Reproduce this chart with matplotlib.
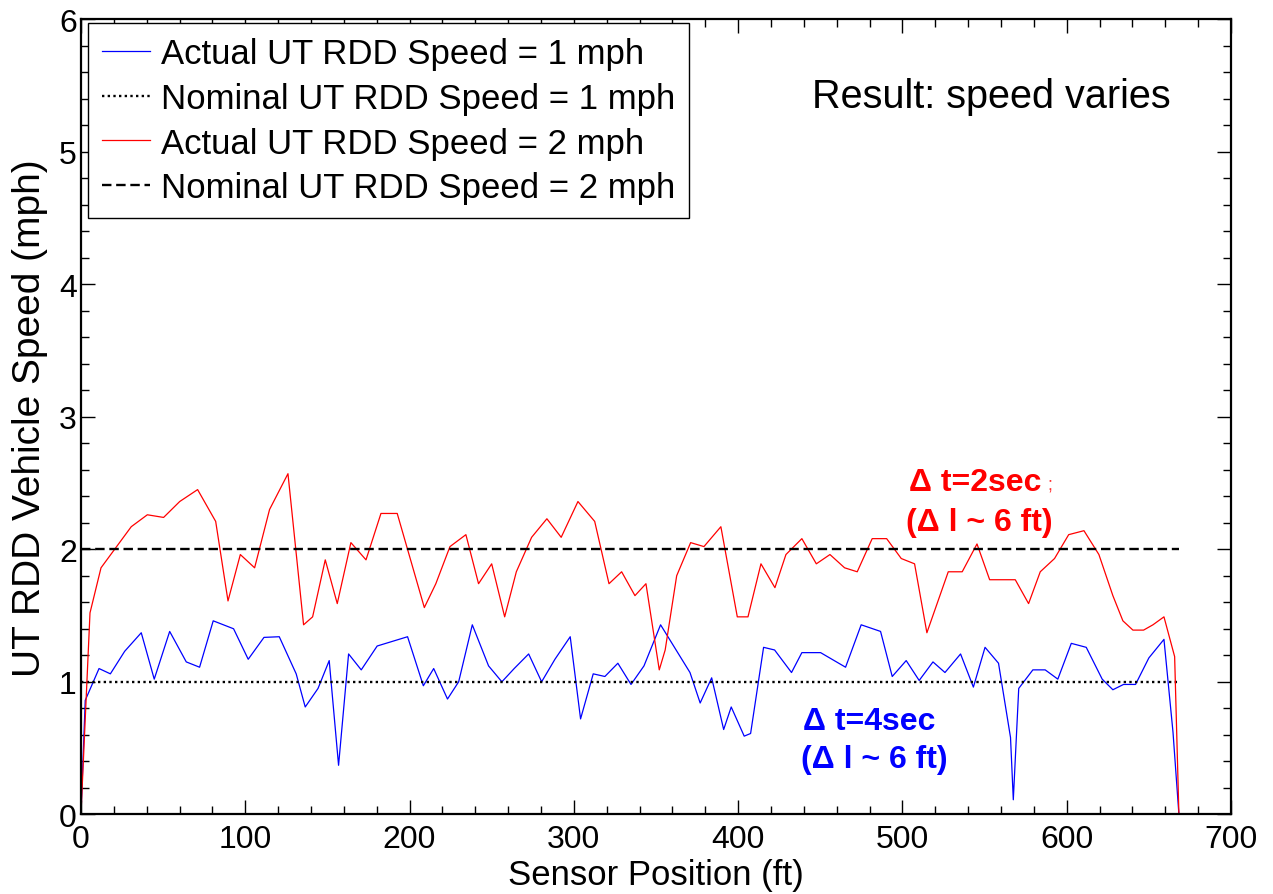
import matplotlib
matplotlib.use("Agg")
import matplotlib.pyplot as plt
from matplotlib.ticker import MultipleLocator

plt.rcParams['font.family'] = ['Liberation Sans', 'DejaVu Sans']

# Measured speed along the track, 1 mph nominal run (blue)
blue_x = [0, 2.6, 11.0, 17.9, 26.6, 36.7, 44.6, 54.0, 64.1, 72.2,
          80.5, 92.9, 101.8, 111.4, 120.7, 131.0, 136.5, 144.3, 151.1, 156.8,
          162.9, 170.6, 180.3, 198.8, 208.4, 214.7, 223.1, 229.9, 238.2, 248.1,
          256.2, 263.7, 272.5, 280.4, 288.5, 297.8, 304.1, 311.8, 318.9, 326.8,
          334.8, 342.7, 352.8, 370.7, 376.9, 383.9, 391.2, 395.8, 403.7, 407.6,
          415.5, 422.2, 432.5, 438.8, 450.2, 465.4, 474.9, 486.7, 493.8, 502.3,
          510.2, 518.6, 525.9, 535.4, 543.2, 550.3, 558.5, 565.8, 567.5, 570.8,
          579.4, 586.9, 594.6, 602.8, 611.9, 621.6, 628.1, 634.6, 641.9, 650.0,
          659.2, 664.7, 668.3]
blue_y = [0, 0.86, 1.10, 1.06, 1.23, 1.37, 1.02, 1.38, 1.15, 1.11,
          1.46, 1.40, 1.17, 1.335, 1.34, 1.06, 0.81, 0.95, 1.16, 0.37,
          1.21, 1.09, 1.27, 1.34, 0.97, 1.10, 0.87, 1.00, 1.43, 1.12,
          1.00, 1.10, 1.21, 1.00, 1.17, 1.34, 0.72, 1.06, 1.04, 1.14,
          0.98, 1.12, 1.43, 1.07, 0.84, 1.03, 0.64, 0.81, 0.59, 0.61,
          1.26, 1.24, 1.07, 1.22, 1.22, 1.11, 1.43, 1.38, 1.04, 1.16,
          1.01, 1.15, 1.07, 1.21, 0.96, 1.26, 1.14, 0.58, 0.11, 0.95,
          1.09, 1.09, 1.02, 1.29, 1.26, 1.02, 0.94, 0.98, 0.98, 1.18,
          1.32, 0.62, 0]

# Measured speed along the track, 2 mph nominal run (red)
red_x = [0, 5.5, 12.2, 30.6, 40.4, 50.3, 60.1, 71.0, 82.0, 89.5,
         97.0, 105.7, 114.8, 126.0, 135.5, 141.0, 148.7, 156.0, 164.3, 173.5,
         182.6, 192.5, 209.0, 216.0, 224.6, 234.3, 242.0, 250.0, 257.9, 265.0,
         274.3, 283.6, 292.3, 302.5, 312.7, 321.4, 329.1, 337.2, 343.9, 352.0,
         355.6, 362.6, 371.1, 379.2, 389.5, 399.5, 406.0, 413.9, 422.4, 429.1,
         438.8, 447.6, 455.9, 464.8, 472.5, 481.6, 490.4, 499.3, 507.4, 514.9,
         527.9, 536.4, 545.4, 553.1, 568.7, 576.8, 583.9, 592.6, 601.2, 610.5,
         619.6, 628.1, 634.2, 640.3, 646.8, 652.5, 659.2, 665.7, 668.3]
red_y = [0, 1.52, 1.86, 2.17, 2.26, 2.24, 2.36, 2.45, 2.21, 1.61,
         1.96, 1.86, 2.30, 2.57, 1.43, 1.49, 1.92, 1.59, 2.05, 1.92,
         2.27, 2.27, 1.56, 1.74, 2.02, 2.11, 1.74, 1.89, 1.49, 1.83,
         2.09, 2.23, 2.09, 2.36, 2.21, 1.74, 1.83, 1.65, 1.74, 1.09,
         1.24, 1.80, 2.05, 2.02, 2.17, 1.49, 1.49, 1.89, 1.71, 1.96,
         2.08, 1.89, 1.96, 1.86, 1.83, 2.08, 2.08, 1.93, 1.89, 1.37,
         1.83, 1.83, 2.04, 1.77, 1.77, 1.59, 1.83, 1.93, 2.11, 2.14,
         1.96, 1.65, 1.46, 1.39, 1.39, 1.43, 1.49, 1.19, 0]

# Nominal speeds over the same span
nominal_x = [0, 668.3]
nominal_1 = [1, 1]
nominal_2 = [2, 2]

labels = ["Actual UT RDD Speed = 1 mph",
          "Nominal UT RDD Speed = 1 mph",
          "Actual UT RDD Speed = 2 mph",
          "Nominal UT RDD Speed = 2 mph"]

fig = plt.figure(figsize=(12.73, 8.95), dpi=100)
ax = fig.add_axes([0.0636, 0.089, 0.9034, 0.8886])

ax.plot(blue_x, blue_y, color=(0, 0, 1), lw=0.9, label=labels[0])
ax.plot(nominal_x, nominal_1, color='black', lw=1.7, linestyle=(0, (1, 1.4)),
        label=labels[1])
ax.plot(red_x, red_y, color=(1, 0, 0), lw=0.9, label=labels[2])
ax.plot(nominal_x, nominal_2, color='black', lw=1.7, linestyle=(0, (4, 2)),
        label=labels[3])

ax.set_xlim(0, 700)
ax.set_ylim(0, 6)
ax.xaxis.set_major_locator(MultipleLocator(100))
ax.xaxis.set_minor_locator(MultipleLocator(20))
ax.yaxis.set_major_locator(MultipleLocator(1))
ax.yaxis.set_minor_locator(MultipleLocator(0.2))
ax.tick_params(which='both', direction='in', top=True, right=True,
               labelsize=23, width=1.0, color='black')
ax.tick_params(which='major', length=10)
ax.tick_params(which='minor', length=6)
ax.tick_params(axis='x', which='major', pad=7)
ax.tick_params(axis='y', which='major', pad=3)
for s in ax.spines.values():
    s.set_linewidth(1.6)
    s.set_color('black')

ax.set_xlabel("Sensor Position (ft)", fontsize=25, labelpad=3)
ax.set_ylabel("UT RDD Vehicle Speed (mph)", fontsize=28, labelpad=8)

leg = ax.legend(loc='upper left', bbox_to_anchor=(0.006, 0.995),
                borderaxespad=0, fontsize=25, handlelength=1.4,
                handletextpad=0.3, labelspacing=0.34, borderpad=0.4,
                fancybox=False, framealpha=1, edgecolor='black')
leg.get_frame().set_linewidth(1.0)

ax.text(0.792, 0.903, "Result: speed varies", transform=ax.transAxes,
        fontsize=28.5, ha='center', va='center')

ax.text(544, 2.507, "\u0394 t=2sec", color=(1, 0, 0), fontsize=23,
        fontweight='bold', ha='center', va='center')
ax.text(590, 2.49, ";", color=(1, 0, 0), fontsize=13,
        ha='center', va='center', alpha=0.8)
ax.text(546.6, 2.205, "(\u0394 l ~ 6 ft)", color=(1, 0, 0), fontsize=23,
        fontweight='bold', ha='center', va='center')

ax.text(479.6, 0.706, "\u0394 t=4sec", color=(0, 0, 1), fontsize=23,
        fontweight='bold', ha='center', va='center')
ax.text(482.7, 0.419, "(\u0394 l ~ 6 ft)", color=(0, 0, 1), fontsize=23,
        fontweight='bold', ha='center', va='center')

fig.savefig("out.png", dpi=100)
